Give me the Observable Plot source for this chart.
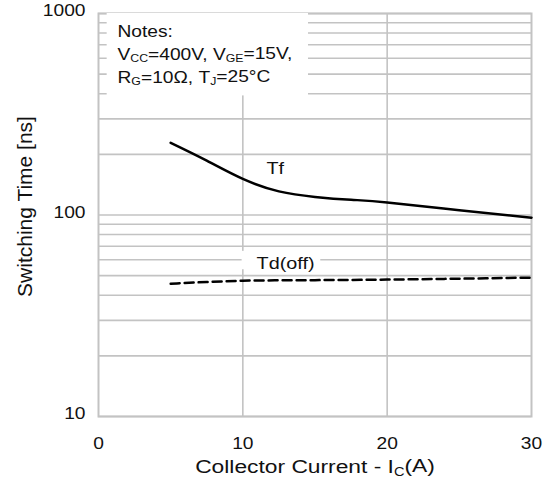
<!DOCTYPE html>
<html>
<head>
<meta charset="utf-8">
<script src="https://cdn.jsdelivr.net/npm/d3@7"></script>
<script src="https://cdn.jsdelivr.net/npm/@observablehq/plot@0.6"></script>
<style>
  html, body { margin: 0; padding: 0; background: #fff; }
  #chart svg { display: block; font-family: "Liberation Sans", Arial, sans-serif; }
</style>
</head>
<body>
<div id="chart"></div>
<script>
// ---- data ----
const current = [5, 7.5, 10, 12.5, 15, 17.5, 20, 25, 30];
const tfValues = [228, 186, 151, 131, 123, 119, 115.5, 105.5, 97];
const tdoffValues = [45.6, 46.5, 47.2, 47.4, 47.5, 47.6, 47.8, 48.3, 48.9];
const xTicks = [0, 10, 20, 30];
const yTicks = [10, 100, 1000];
const noteLines = ["Notes:", "V_{CC}=400V, V_{GE}=15V,", "R_{G}=10Ω, T_{J}=25°C"];
const seriesLabels = ["Tf", "Td(off)"];
const xLabel = "Collector Current - I_{C}(A)";
const yLabel = "Switching Time [ns]";
// annotation anchors (data units)
const labelX = [11.64, 10.95];
const labelY = [160, 54.1];
const noteBox = [{x1: 0.6, x2: 14.55, y1: 390, y2: 1000}];
const labelBox = [{x1: 9.95, x2: 15.4, y1: 53.5, y2: 66}];

const tf = current.map((c, i) => ({x: c, y: tfValues[i]}));
const td = current.map((c, i) => ({x: c, y: tdoffValues[i]}));
const yGrid = [];
for (const d of [10, 100]) for (let k = 1; k <= 9; k++) yGrid.push(k * d);
yGrid.push(1000);
const labels = seriesLabels.map((t, i) => ({t, x: labelX[i], y: labelY[i]}));

const gridColor = "#c3c3c3";
const noteBaselines = [23, 46, 69]; // px below the frame top

const chart = Plot.plot({
  width: 552,
  height: 488,
  marginLeft: 98,
  marginRight: 21,
  marginTop: 13,
  marginBottom: 72,
  style: {fontFamily: "Liberation Sans, Arial, sans-serif", fontSize: "16px", color: "#000", background: "#fff"},
  x: {domain: [0, 30]},
  y: {type: "log", domain: [10, 1000]},
  marks: [
    Plot.ruleY(yGrid, {stroke: gridColor, strokeWidth: 1.6}),
    Plot.ruleX([10, 20], {stroke: gridColor, strokeWidth: 1.6}),
    Plot.frame({stroke: gridColor, strokeWidth: 2}),
    Plot.rect(noteBox, {x1: "x1", x2: "x2", y1: "y1", y2: "y2", fill: "white"}),
    Plot.rect(labelBox, {x1: "x1", x2: "x2", y1: "y1", y2: "y2", fill: "white"}),
    Plot.axisX({ticks: xTicks, tickSize: 0, tickPadding: 21, fontSize: 16, fill: "#111", tickFormat: d => String(d), label: null}),
    Plot.axisY({ticks: yTicks, tickSize: 0, tickPadding: 13, dy: -2.5, fontSize: 16, fill: "#111", tickFormat: d => String(d), label: null}),
    Plot.line(tf, {x: "x", y: "y", stroke: "black", strokeWidth: 2.5, curve: "natural"}),
    Plot.line(td, {x: "x", y: "y", stroke: "black", strokeWidth: 2.5, strokeDasharray: "9,5", curve: "monotone-x"}),
    Plot.text(labels, {x: "x", y: "y", text: "t", textAnchor: "start", lineAnchor: "bottom", fontSize: 16.5, fill: "#111"}),
    ...noteLines.map((line, i) => Plot.text([line], {
      text: d => d, frameAnchor: "top-left", textAnchor: "start", lineAnchor: "bottom",
      dx: 19, dy: noteBaselines[i], fontSize: 16, fill: "#111", className: "rich"
    })),
    Plot.text([xLabel], {text: d => d, frameAnchor: "bottom", textAnchor: "middle", lineAnchor: "bottom", dy: 56, fontSize: 19, fill: "#111", className: "rich"}),
    Plot.text([yLabel], {text: d => d, frameAnchor: "left", textAnchor: "middle", lineAnchor: "bottom", dx: -66.3, dy: -8.5, rotate: -90, fontSize: 21, fill: "#111", className: "ylab"})
  ]
});

// subscripts
d3.select(chart).selectAll("g.rich text").each(function() {
  const el = d3.select(this);
  const s = el.text();
  el.text("");
  const parts = s.split(/(_\{[^}]*\})/);
  let shifted = false;
  for (const p of parts) {
    if (!p) continue;
    if (p.startsWith("_{")) {
      el.append("tspan").attr("font-size", "0.64em").attr("dy", "0.28em").text(p.slice(2, -1));
      shifted = true;
    } else {
      const ts = el.append("tspan").text(p);
      if (shifted) { ts.attr("dy", "-0.18em"); shifted = false; }
    }
  }
});

// the reference's lettering is set wide: stretch horizontal text about its anchor
const STRETCH = 1.2;
d3.select(chart).selectAll("text").each(function() {
  if (this.closest("g.ylab")) return;
  const tr = this.getAttribute("transform") || "";
  const xa = this.getAttribute("x");
  let x = 0;
  if (xa != null && /^[-\d.]+$/.test(xa)) { x = +xa; this.removeAttribute("x"); }
  this.setAttribute("transform", `${tr} translate(${x},0) scale(${STRETCH},1)`);
});

document.getElementById("chart").appendChild(chart);
</script>
</body>
</html>
